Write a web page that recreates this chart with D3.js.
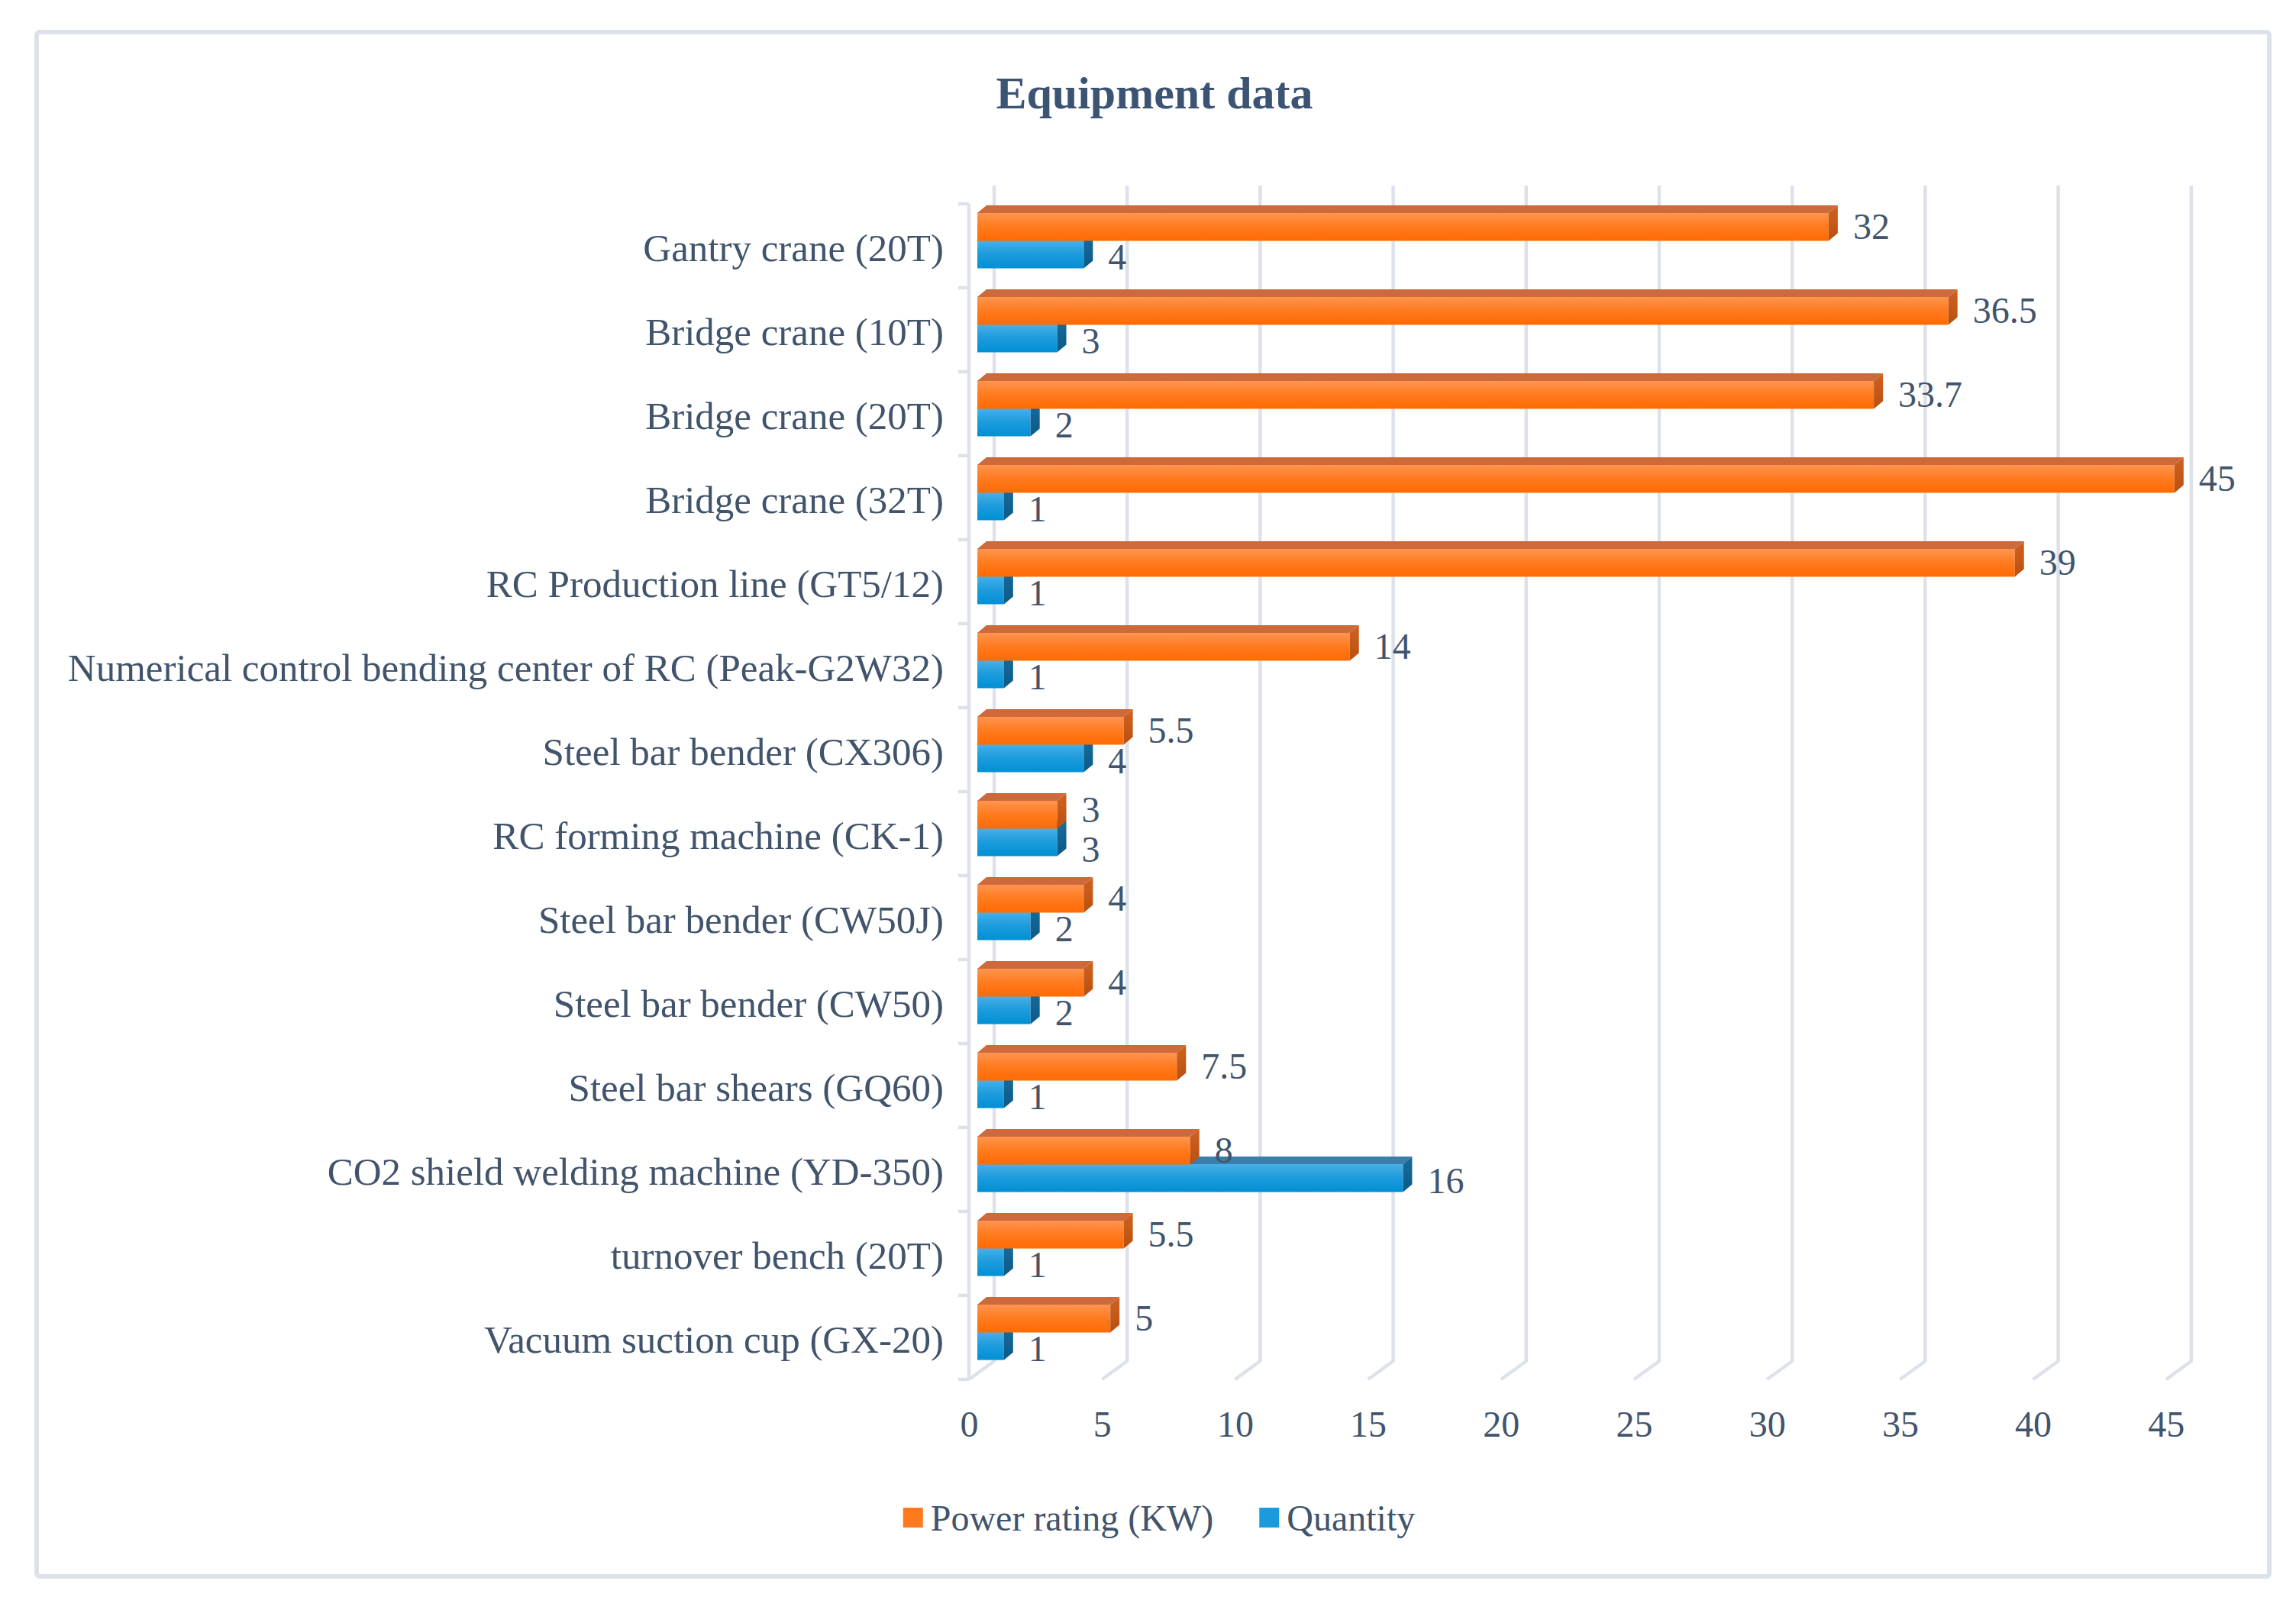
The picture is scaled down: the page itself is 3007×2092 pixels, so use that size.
<!DOCTYPE html>
<html>
<head>
<meta charset="utf-8">
<script src="https://cdn.jsdelivr.net/npm/d3@7"></script>
<style>
  body { margin: 0; background: #fff; }
  text { font-family: "Liberation Serif", "Times New Roman", serif; fill: #41546c; }
</style>
</head>
<body>
<svg id="chart" width="3007" height="2092"></svg>
<script>
"use strict";

// data, top row first
const categories = [
    "Gantry crane (20T)",
    "Bridge crane (10T)",
    "Bridge crane (20T)",
    "Bridge crane (32T)",
    "RC Production line (GT5/12)",
    "Numerical control bending center of RC (Peak-G2W32)",
    "Steel bar bender (CX306)",
    "RC forming machine (CK-1)",
    "Steel bar bender (CW50J)",
    "Steel bar bender (CW50)",
    "Steel bar shears (GQ60)",
    "CO2 shield welding machine (YD-350)",
    "turnover bench (20T)",
    "Vacuum suction cup (GX-20)"
];
const powerRating = [32, 36.5, 33.7, 45, 39, 14, 5.5, 3, 4, 4, 7.5, 8, 5.5, 5];
const quantity = [4, 3, 2, 1, 1, 1, 4, 3, 2, 2, 1, 16, 1, 1];
const xTicks = [0, 5, 10, 15, 20, 25, 30, 35, 40, 45];
const seriesNames = ["Power rating (KW)", "Quantity"];
const chartTitle = "Equipment data";

const W = 3007, H = 2092;
const svg = d3.select("#chart");

// 3d offsets (bar depth, back wall, floor)
const depth = { dx: 12, dy: -10 };
const wall = { dx: 22, dy: -24 };
const floorFront = -11;

const x = d3.scaleLinear().domain([0, 45]).range([1280, 1280 + 45 * 34.84]);
const y = d3.scaleBand().domain(categories).range([267, 1807]);

const grey = "#dde2ea";

// colour defs
const defs = svg.append("defs");
function grad (id, stops) {
    const g = defs.append("linearGradient").attr("id", id)
        .attr("x1", 0).attr("y1", 0).attr("x2", 0).attr("y2", 1);
    stops.forEach(s => g.append("stop").attr("offset", s[0]).attr("stop-color", s[1]));
}
grad("gOrange", [[0, "#ff9550"], [0.45, "#ff7c22"], [1, "#ff6a02"]]);
grad("gBlue", [[0, "#4cafe6"], [0.45, "#1f9ddd"], [1, "#008fd5"]]);
grad("gOrangeSide", [[0, "#cf6222"], [1, "#b9500f"]]);
grad("gBlueSide", [[0, "#1a6c9c"], [1, "#0b5a88"]]);

const series = [
    { name: seriesNames[0], values: powerRating, front: "url(#gOrange)", top: "#cd6a3c", side: "url(#gOrangeSide)", key: "#ff7a1c", off: 12, nudge: -1, dir: -1 },
    { name: seriesNames[1], values: quantity, front: "url(#gBlue)", top: "#3b7eaa", side: "url(#gBlueSide)", key: "#1a9bdc", off: 48, nudge: 3, dir: 1 }
];
const barH = 36.5;

// frame
svg.append("rect").attr("width", W).attr("height", H).attr("fill", "#fff");
svg.append("rect")
    .attr("x", 48).attr("y", 42).attr("width", 2924).attr("height", 2023)
    .attr("rx", 4).attr("fill", "none").attr("stroke", grey).attr("stroke-width", 6);

svg.append("text")
    .attr("x", 1512).attr("y", 142)
    .attr("text-anchor", "middle")
    .style("font-size", "60px").style("font-weight", "bold")
    .style("fill", "#3c5473")
    .text(chartTitle);

// back wall gridlines with floor diagonals
const yTop = y.range()[0], yBot = y.range()[1];
svg.append("g").selectAll("path")
    .data(xTicks)
    .join("path")
    .attr("fill", "none")
    .attr("stroke", grey)
    .attr("stroke-width", 4.5)
    .attr("stroke-linejoin", "round")
    .attr("d", v => {
        const bx = x(v) + wall.dx;
        return `M${bx},${yTop + wall.dy}L${bx},${yBot + wall.dy}L${x(v) + floorFront},${yBot}`;
    });

// category axis line and boundary ticks
const axisX = x(0) + floorFront;
svg.append("line")
    .attr("x1", axisX).attr("x2", axisX).attr("y1", yTop).attr("y2", yBot)
    .attr("stroke", grey).attr("stroke-width", 4.5);
svg.append("g").selectAll("line")
    .data(categories.map(c => y(c)).concat([yBot]))
    .join("line")
    .attr("x1", axisX - 14).attr("x2", axisX)
    .attr("y1", d => d).attr("y2", d => d)
    .attr("stroke", grey).attr("stroke-width", 4.5);

// value axis labels on the front floor edge
const xAxis = svg.append("g")
    .attr("transform", `translate(${floorFront},1865)`)
    .call(d3.axisBottom(x).tickValues(xTicks).tickSize(0).tickPadding(0));
xAxis.select(".domain").remove();
xAxis.selectAll("text")
    .attr("y", 0).attr("dy", "0.35em")
    .style("font-size", "48px");
xAxis.attr("font-family", null).attr("font-size", null);

// category labels
const yAxis = svg.append("g")
    .attr("transform", "translate(1236,2)")
    .call(d3.axisLeft(y).tickSize(0).tickPadding(0));
yAxis.select(".domain").remove();
yAxis.selectAll("text")
    .attr("dy", "0.35em")
    .style("font-size", "51px");
yAxis.attr("font-family", null).attr("font-size", null);

// 3d bars: blue first so the orange front covers its top face
const bars = svg.append("g");
[series[1], series[0]].forEach(s => {
    categories.forEach((c, i) => {
        const v = s.values[i];
        const x0 = x(0), x1 = x(v);
        const y0 = y(c) + s.off, y1 = y0 + barH;
        const g = bars.append("g");
        g.append("path")
            .attr("fill", s.top)
            .attr("d", `M${x0},${y0}L${x0 + depth.dx},${y0 + depth.dy}L${x1 + depth.dx},${y0 + depth.dy}L${x1},${y0}Z`);
        g.append("rect")
            .attr("x", x0).attr("y", y0)
            .attr("width", x1 - x0).attr("height", barH)
            .attr("fill", s.front);
        g.append("path")
            .attr("fill", s.side)
            .attr("d", `M${x1},${y0}L${x1 + depth.dx},${y0 + depth.dy}L${x1 + depth.dx},${y1 + depth.dy}L${x1},${y1}Z`);
    });
});

// data labels; spread the pair apart when both sit at the same x
const labels = svg.append("g");
series.forEach(s => {
    labels.selectAll(null)
        .data(categories)
        .join("text")
        .attr("x", (c, i) => x(s.values[i]) + depth.dx + 20)
        .attr("y", (c, i) => {
            const clash = Math.abs(x(powerRating[i]) - x(quantity[i])) < 40;
            return y(c) + s.off + barH / 2 + s.nudge + (clash ? s.dir * 6 : 0);
        })
        .attr("dy", "0.35em")
        .style("font-size", "48px")
        .text((c, i) => s.values[i]);
});

// legend
const legend = svg.append("g");
let lx = 0;
series.forEach(s => {
    const it = legend.append("g").attr("transform", `translate(${lx},0)`);
    it.append("rect").attr("x", 0).attr("y", -13).attr("width", 26).attr("height", 26).attr("fill", s.key);
    const t = it.append("text").attr("x", 36).attr("y", 0).attr("dy", "0.35em")
        .style("font-size", "48px").text(s.name);
    lx += 36 + t.node().getComputedTextLength() + 60;
});
const legendW = lx - 60;
legend.attr("transform", `translate(${1518 - legendW / 2},1988)`);
</script>
</body>
</html>
